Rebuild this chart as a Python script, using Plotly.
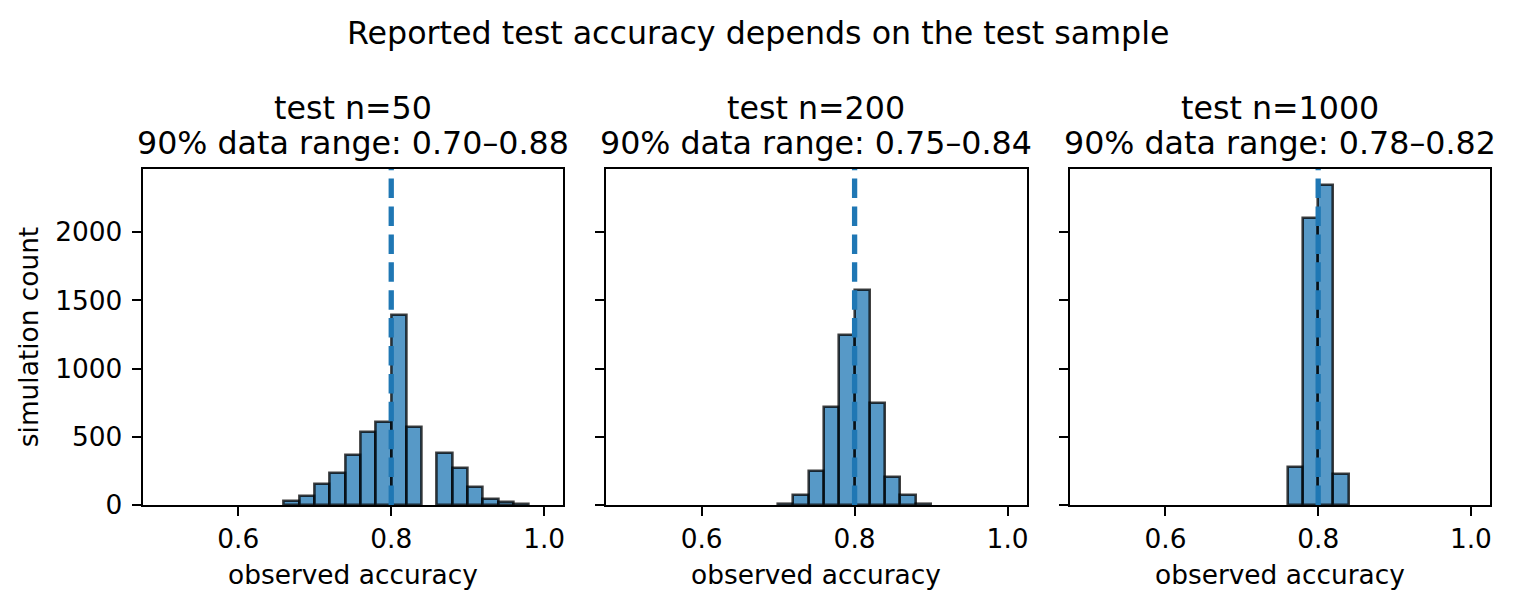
import numpy as np
import plotly.graph_objects as go

# ---------------- data ----------------
suptitle = "Reported test accuracy depends on the test sample"
panel_titles = ["test n=50", "test n=200", "test n=1000"]
panel_ranges = ["90% data range: 0.70–0.88",
                "90% data range: 0.75–0.84",
                "90% data range: 0.78–0.82"]
true_accuracy = 0.8
bin_start = 0.5
bin_width = 0.02
# histogram counts per 0.02-wide bin, bins from 0.50 to 1.00 (25 bins)
counts_n50 = [0, 0, 0, 0, 0, 0, 0, 0, 30, 66, 156, 235, 367, 538, 611,
              1391, 572, 0, 379, 271, 132, 44, 24, 5, 0]
counts_n200 = [0, 0, 0, 0, 0, 0, 0, 0, 0, 0, 10, 76, 249, 719, 1247,
               1577, 748, 205, 73, 5, 0, 0, 0, 0, 0]
counts_n1000 = [0, 0, 0, 0, 0, 0, 0, 0, 0, 0, 0, 0, 0, 279, 2100,
                2345, 225, 0, 0, 0, 0, 0, 0, 0, 0]
x_tickvals = [0.6, 0.8, 1.0]
x_ticktext = ["0.6", "0.8", "1.0"]
y_tickvals = [0, 500, 1000, 1500, 2000]
y_ticktext = ["0", "500", "1000", "1500", "2000"]
x_label = "observed accuracy"
y_label = "simulation count"

all_counts = [counts_n50, counts_n200, counts_n1000]

# ---------------- layout geometry (pixels) ----------------
W, H = 1517, 607
FONT = "DejaVu Sans"
panel_px = [(142.7, 563.3), (606.0, 1026.7), (1070.0, 1490.0)]
top_px, bot_px = 169.0, 505.0

def fx(px):
    return px / W

def fy(py):
    return 1 - py / H

n_bins = len(counts_n50)
edges = bin_start + bin_width * np.arange(n_bins + 1)
centers = (edges[:-1] + edges[1:]) / 2
xmin = edges[0] - 0.05 * (edges[-1] - edges[0])
xmax = edges[-1] + 0.05 * (edges[-1] - edges[0])
ymax = 1.05 * max(max(c) for c in all_counts)

fig = go.Figure()
shapes = []
annotations = []
for k, counts in enumerate(all_counts):
    idx = "" if k == 0 else str(k + 1)
    shown = [c if c > 0 else None for c in counts]
    fig.add_trace(go.Bar(
        x=centers, y=shown, width=bin_width,
        marker=dict(color="rgba(31,119,180,0.75)",
                    line=dict(color="rgba(0,0,0,0.75)", width=2.6)),
        xaxis="x" + idx, yaxis="y" + idx, showlegend=False,
    ))
    x0p, x1p = panel_px[k]
    axis_common = dict(showline=True, mirror=True, linecolor="black", linewidth=2.1,
                       ticks="outside", ticklen=9, tickwidth=2.1, tickcolor="black",
                       showgrid=False, zeroline=False, automargin=False,
                       tickfont=dict(family=FONT, size=26.4, color="black"))
    fig.update_layout(**{
        "xaxis" + idx: dict(domain=[fx(x0p), fx(x1p)], range=[xmin, xmax],
                            tickvals=x_tickvals, ticktext=x_ticktext,
                            anchor="y" + idx, **axis_common),
        "yaxis" + idx: dict(domain=[fy(bot_px), fy(top_px)], range=[0, ymax],
                            tickvals=y_tickvals, ticktext=y_ticktext,
                            showticklabels=(k == 0), ticklabelstandoff=4,
                            anchor="x" + idx, **axis_common),
    })
    shapes.append(dict(type="line", xref="x" + idx, yref="y" + idx + " domain",
                       x0=true_accuracy, x1=true_accuracy, y0=0, y1=1,
                       line=dict(color="#1f77b4", width=5.3, dash="19.5px,8.4px"),
                       layer="above"))
    cx = (x0p + x1p) / 2
    annotations.append(dict(text=panel_titles[k], x=fx(cx), y=fy(108.3),
                            xref="paper", yref="paper", xanchor="center", yanchor="middle",
                            showarrow=False, font=dict(family=FONT, size=31.7, color="black")))
    annotations.append(dict(text=panel_ranges[k], x=fx(cx), y=fy(143.0),
                            xref="paper", yref="paper", xanchor="center", yanchor="middle",
                            showarrow=False, font=dict(family=FONT, size=31.7, color="black")))
    annotations.append(dict(text=x_label, x=fx(cx), y=fy(574.0),
                            xref="paper", yref="paper", xanchor="center", yanchor="middle",
                            showarrow=False, font=dict(family=FONT, size=26.4, color="black")))

annotations.append(dict(text=suptitle, x=fx(758), y=fy(33),
                        xref="paper", yref="paper", xanchor="center", yanchor="middle",
                        showarrow=False, font=dict(family=FONT, size=31.7, color="black")))
annotations.append(dict(text=y_label, x=fx(29.2), y=fy((top_px + bot_px) / 2),
                        xref="paper", yref="paper", xanchor="center", yanchor="middle",
                        textangle=-90, showarrow=False,
                        font=dict(family=FONT, size=26.4, color="black")))

fig.update_layout(
    template="none",
    width=W, height=H, margin=dict(l=0, r=0, t=0, b=0, pad=0),
    paper_bgcolor="white", plot_bgcolor="white",
    bargap=0, shapes=shapes, annotations=annotations,
    font=dict(family=FONT, color="black"),
)
fig.write_html("out.html")
